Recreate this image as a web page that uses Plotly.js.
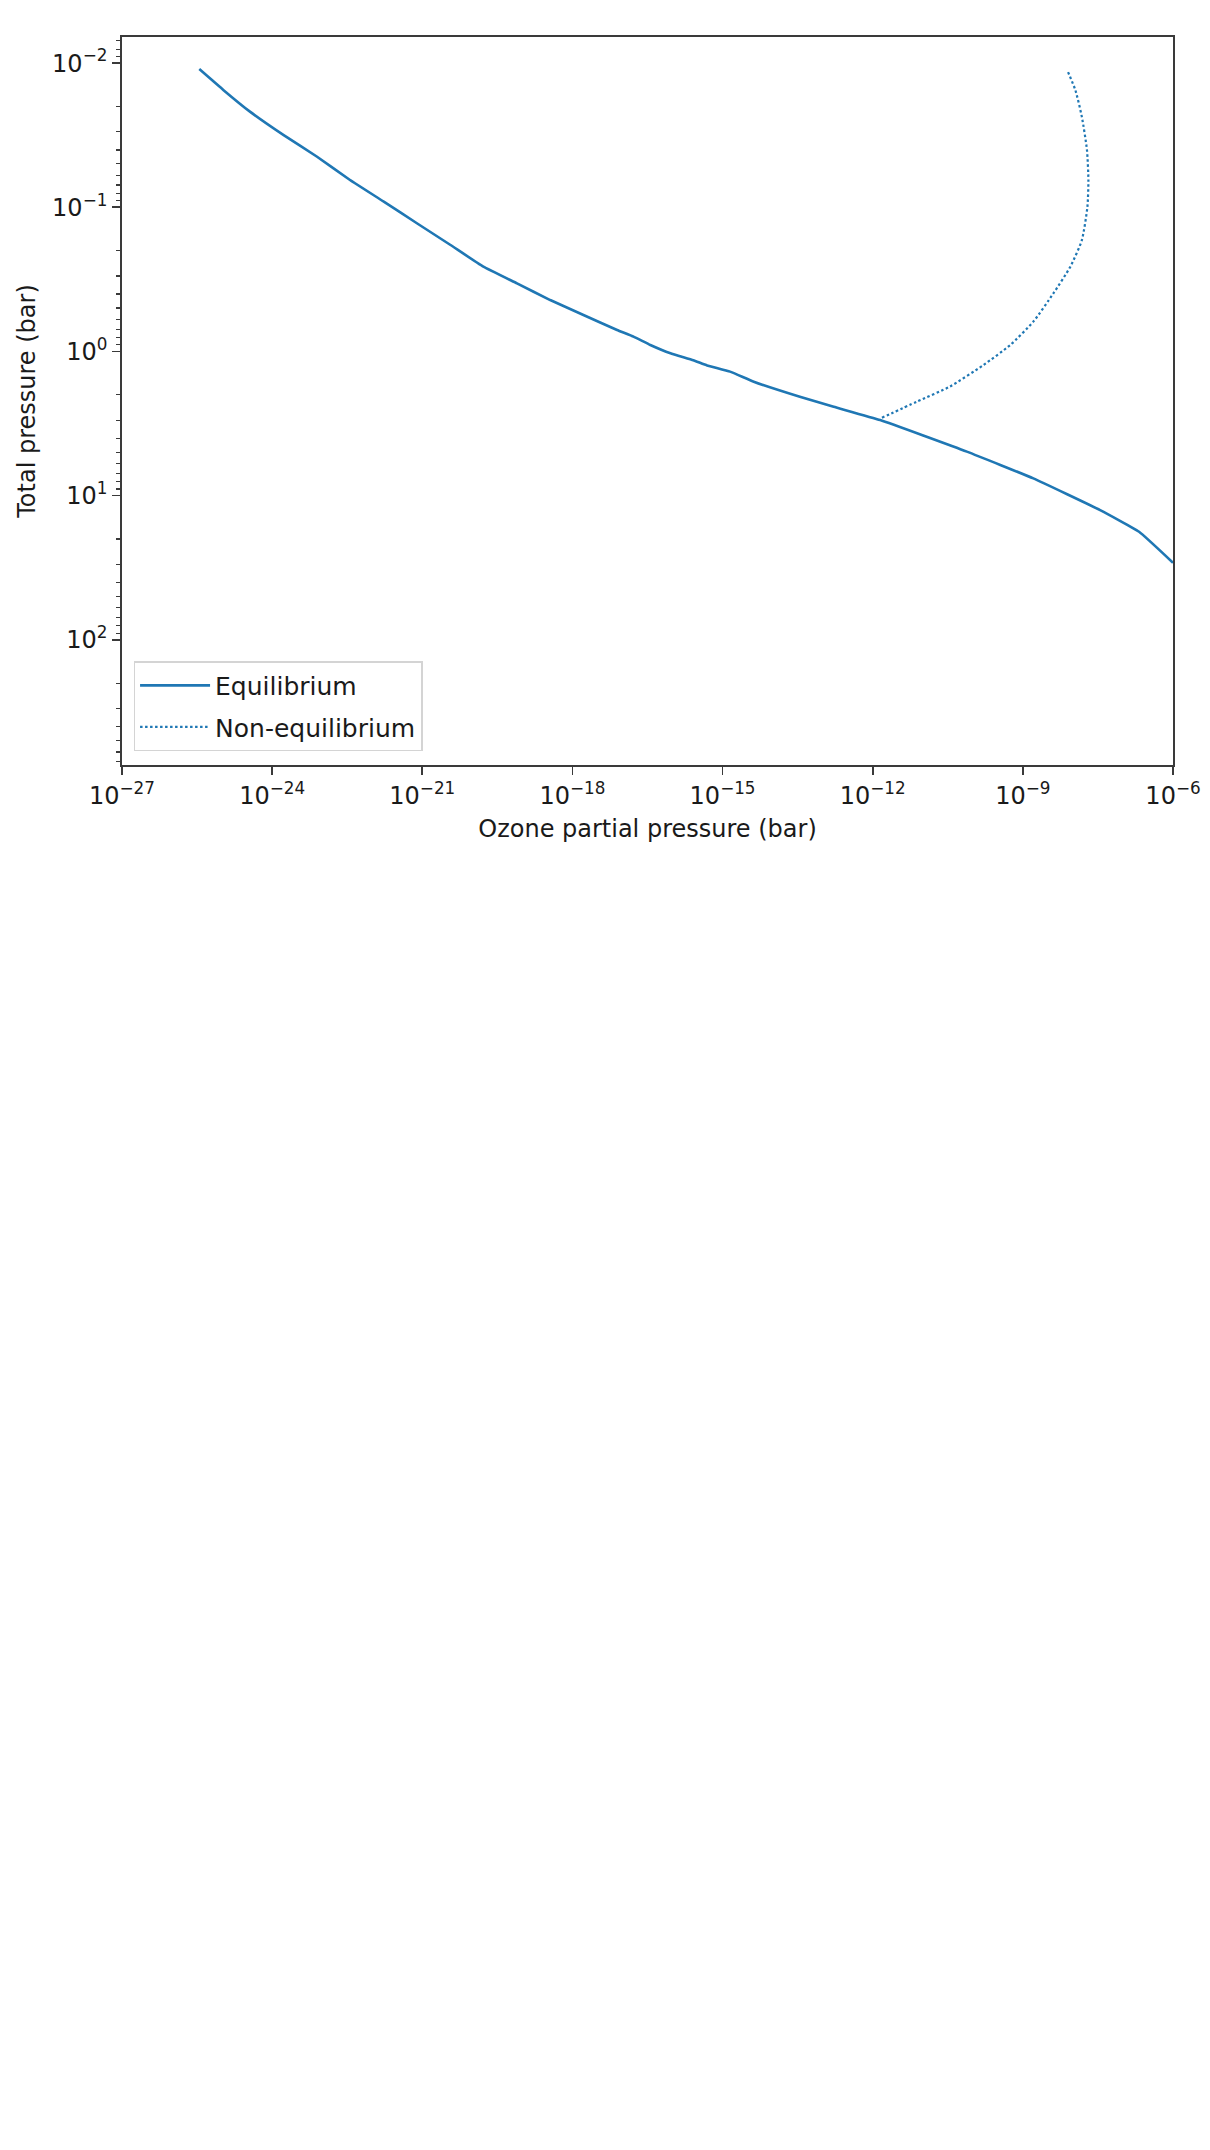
<!DOCTYPE html>
<html>
<head>
<meta charset="utf-8">
<script src="https://cdn.plot.ly/plotly-3.0.1.min.js"></script>
<style>
  html, body { margin: 0; padding: 0; background: #ffffff; }
  #chart { width: 1210px; height: 2150px; }
</style>
</head>
<body>
<div id="chart"></div>
<script>
// Equilibrium profile: ozone partial pressure (bar) vs total pressure (bar)
const eqOzone = [3.5e-26, 1.07e-25, 3.6e-25, 1.7e-24, 7.9e-24, 3.6e-23, 1.7e-22, 7.8e-22,
  3.6e-21, 1.66e-20, 7.8e-20, 3.6e-19, 1.66e-18, 7.8e-18, 1.66e-17, 3.6e-17, 9.1e-17,
  2.6e-16, 4.9e-16, 1.41e-15, 4.2e-15, 3.5e-14, 1.66e-13, 1.41e-12, 7.6e-11,
  1.62e-9, 3.5e-8, 2.1e-7, 1.0e-6];
const eqPressure = [0.0110, 0.0154, 0.0217, 0.0316, 0.0446, 0.0647, 0.0914, 0.129,
  0.182, 0.258, 0.337, 0.440, 0.558, 0.710, 0.789, 0.902, 1.03,
  1.15, 1.25, 1.38, 1.62, 2.06, 2.42, 2.99, 4.95,
  7.59, 12.6, 17.8, 29.2];

// Non-equilibrium profile
const neqOzone = [1.53e-12, 7.6e-12, 3.5e-11, 1.64e-10, 5.6e-10, 1.62e-9, 4.1e-9, 8.9e-9,
  1.51e-8, 1.95e-8, 2.04e-8, 1.91e-8, 1.51e-8, 1.12e-8, 7.8e-9];
const neqPressure = [2.88, 2.23, 1.75, 1.24, 0.902, 0.621, 0.394, 0.258,
  0.169, 0.0991, 0.0647, 0.0401, 0.0236, 0.0154, 0.0113];

// Tick labels
const xTickVals = [1e-27, 1e-24, 1e-21, 1e-18, 1e-15, 1e-12, 1e-9, 1e-6];
const xTickText = ['10<sup>−27</sup>', '10<sup>−24</sup>', '10<sup>−21</sup>', '10<sup>−18</sup>',
  '10<sup>−15</sup>', '10<sup>−12</sup>', '10<sup>−9</sup>', '10<sup>−6</sup>'];
const yTickVals = [0.01, 0.1, 1, 10, 100];
const yTickText = ['10<sup>−2</sup>', '10<sup>−1</sup>', '10<sup>0</sup>', '10<sup>1</sup>', '10<sup>2</sup>'];

const yMinorVals = [];
for (let k = -3; k <= 2; k++) {
  for (let m = 2; m <= 9; m++) yMinorVals.push(m * Math.pow(10, k));
}

const C0 = '#1f77b4';
const axisColor = '#3a3a3a';
const FONT = 'DejaVu Sans, Liberation Sans, sans-serif';

const traces = [
  {
    x: eqOzone, y: eqPressure, type: 'scatter', mode: 'lines', name: 'Equilibrium',
    line: { color: C0, width: 2.6, shape: 'spline', smoothing: 0.35 }, legendgroup: 'a'
  },
  {
    x: neqOzone, y: neqPressure, type: 'scatter', mode: 'lines', name: 'Non-equilibrium',
    line: { color: C0, width: 2.2, dash: '2.5px,2.5px', shape: 'spline', smoothing: 0.6 },
    legendgroup: 'b'
  }
];

const layout = {
  width: 1210, height: 2150,
  margin: { l: 122, r: 37, t: 37, b: 1385 },
  paper_bgcolor: '#ffffff', plot_bgcolor: '#ffffff',
  font: { family: FONT, size: 24, color: '#1a1a1a' },
  showlegend: true,
  legend: {
    x: 0.011, y: 0.019, xanchor: 'left', yanchor: 'bottom',
    bgcolor: 'rgba(255,255,255,0.9)', bordercolor: '#d4d4d4', borderwidth: 1.5,
    font: { family: FONT, size: 25, color: '#1a1a1a' },
    traceorder: 'grouped', tracegroupgap: 6, itemwidth: 70
  },
  xaxis: {
    type: 'log', range: [-27, -6],
    tickmode: 'array', tickvals: xTickVals, ticktext: xTickText,
    ticks: 'outside', ticklen: 8, tickwidth: 1.6, tickcolor: axisColor,
    showline: true, linecolor: axisColor, linewidth: 1.8, mirror: true,
    showgrid: false, zeroline: false,
    tickfont: { family: FONT, size: 24, color: '#1a1a1a' },
    title: { text: 'Ozone partial pressure (bar)', font: { family: FONT, size: 24, color: '#1a1a1a' }, standoff: 12 },
    automargin: false
  },
  yaxis: {
    type: 'log', range: [2.868, -2.181],
    tickmode: 'array', tickvals: yTickVals, ticktext: yTickText,
    ticks: 'outside', ticklen: 8, tickwidth: 1.6, tickcolor: axisColor,
    minor: { tickmode: 'array', tickvals: yMinorVals, ticks: 'outside', ticklen: 4.5, tickwidth: 1.2, tickcolor: axisColor, showgrid: false },
    showline: true, linecolor: axisColor, linewidth: 1.8, mirror: true,
    showgrid: false, zeroline: false,
    tickfont: { family: FONT, size: 24, color: '#1a1a1a' },
    title: { text: 'Total pressure (bar)', font: { family: FONT, size: 24, color: '#1a1a1a' }, standoff: 10 },
    automargin: false
  }
};

Plotly.newPlot('chart', traces, layout, { displayModeBar: false, staticPlot: true });
</script>
</body>
</html>
